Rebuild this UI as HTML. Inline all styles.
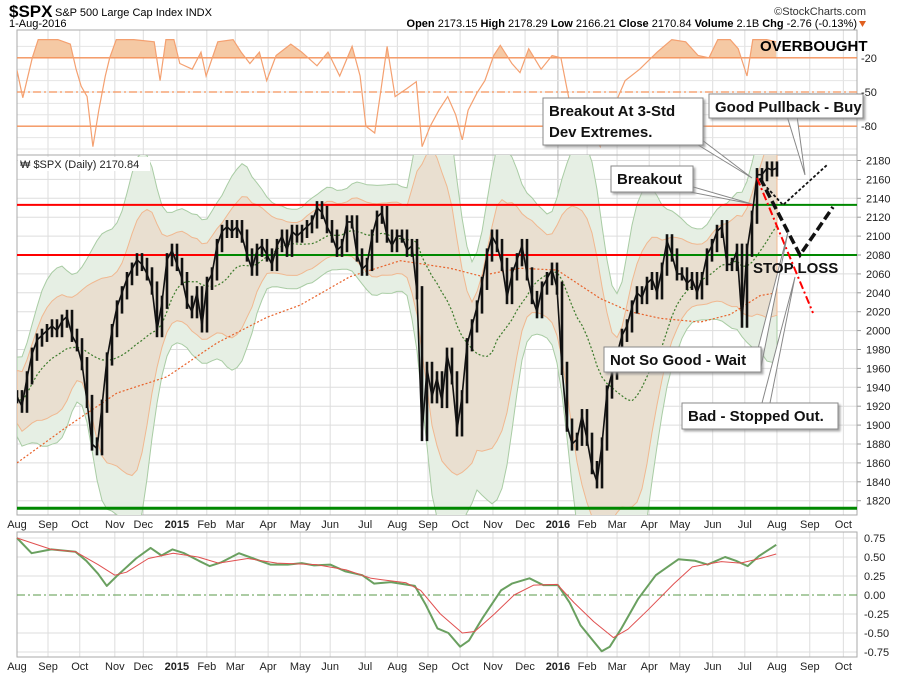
<!DOCTYPE html>
<html><head><meta charset="utf-8"><style>
body{margin:0;background:#fff;width:900px;height:673px;overflow:hidden;font-family:"Liberation Sans",sans-serif}
svg text{font-family:"Liberation Sans",sans-serif}
</style></head><body>
<svg id="c" width="900" height="673" xmlns="http://www.w3.org/2000/svg">
<defs>
<clipPath id="cpMain"><rect x="17" y="155" width="840" height="360"/></clipPath>
<clipPath id="cpTop"><rect x="17" y="30" width="840" height="125"/></clipPath>
<clipPath id="cpOB"><rect x="17" y="30" width="840" height="27.8"/></clipPath>
<filter id="sh" x="-10%" y="-10%" width="130%" height="140%"><feDropShadow dx="2" dy="2" stdDeviation="1" flood-color="#888" flood-opacity="0.7"/></filter>
</defs>
<g id="header">
<text x="9" y="17" font-size="17" font-weight="bold">$SPX</text>
<text x="55" y="16" font-size="11">S&amp;P 500 Large Cap Index INDX</text>
<text x="9" y="27" font-size="11">1-Aug-2016</text>
<text x="866" y="15" font-size="11" text-anchor="end" fill="#333">©StockCharts.com</text>
<text x="857" y="27" font-size="11" text-anchor="end"><tspan font-weight="bold">Open</tspan> 2173.15 <tspan font-weight="bold">High</tspan> 2178.29 <tspan font-weight="bold">Low</tspan> 2166.21 <tspan font-weight="bold">Close</tspan> 2170.84 <tspan font-weight="bold">Volume</tspan> 2.1B <tspan font-weight="bold">Chg</tspan> -2.76 (-0.13%)</text>
<path d="M859,21 L866,21 L862.5,27 Z" fill="#e06020"/>
</g>
<g id="grid"></g>
<g id="toppanel"></g>
<g id="mainpanel"></g>
<g id="bottompanel"></g>
<g id="annot"></g>
</svg>
<script>
// ---- data ----
const monthLabels=["Aug","Sep","Oct","Nov","Dec","2015","Feb","Mar","Apr","May","Jun","Jul","Aug","Sep","Oct","Nov","Dec","2016","Feb","Mar","Apr","May","Jun","Jul","Aug","Sep","Oct"];
const monthWeeks=[0,4.25,8.6,13.4,17.3,21.9,26.0,29.9,34.4,38.8,42.9,47.7,52.1,56.3,60.7,65.2,69.6,74.1,78.1,82.2,86.6,90.8,95.3,99.7,104.1,108.6,113.2];
const priceTicks=[2180,2160,2140,2120,2100,2080,2060,2040,2020,2000,1980,1960,1940,1920,1900,1880,1860,1840,1820];
const closePrices=[1930,1920,1950,1975,1990,1995,2000,2005,2000,2010,2015,1995,1985,1965,1925,1880,1875,1920,1970,2000,2025,2040,2055,2065,2075,2070,2060,2045,2000,2030,2075,2085,2070,2055,2030,2020,2040,2005,2050,2060,2090,2105,2110,2105,2110,2100,2080,2065,2085,2090,2080,2070,2090,2100,2085,2105,2100,2105,2110,2115,2130,2125,2110,2100,2085,2090,2115,2115,2080,2065,2070,2100,2120,2125,2100,2090,2100,2100,2085,2090,2040,1890,1960,1930,1950,1925,1975,1950,1895,1930,1985,2005,2025,2050,2080,2100,2090,2070,2035,2060,2075,2090,2060,2035,2020,2045,2055,2065,2045,1960,1900,1880,1885,1910,1885,1855,1840,1880,1935,1955,1975,1995,2005,2025,2040,2035,2050,2055,2040,2065,2095,2080,2060,2060,2050,2055,2040,2055,2080,2090,2105,2110,2070,2070,2085,2010,2085,2120,2165,2165,2172,2170,2172];
const ma200Weeks=[0,6.8,13.7,20.5,27.4,34.2,38.8,45.6,52.5,59.3,63.4,68.9,74,79.9,84,88.1,93.6,97.7,101.8,104];
const ma200=[1860,1898,1934,1951,1987,2014,2027,2057,2074,2066,2058,2066,2064,2034,2020,2013,2009,2017,2037,2040];
const wrTicks=[-20,-50,-80];
const wrWeeks=[0,0.8,2.1,2.9,4.1,5.6,7.3,8.1,8.8,9.6,10.4,11.2,12.1,12.7,13.6,16,18.8,19.6,20.4,21.5,22.3,24,25.2,25.9,27.5,29.6,30.7,31.9,33.2,34.2,35.5,37.5,39,41.1,42.6,44.2,45.9,47,47.8,49,49.9,50.7,51.8,53.4,54.7,55.5,56.6,57.8,59,60.1,61,61.8,63,64.1,65.3,66.2,67.8,68.9,70.1,71.8,73.3,74.5,75.3,76.2,77.3,78.5,79.9,81,82.1,83.3,85.3,87.7,89.7,91.6,93.3,94.8,96,97.7,98.8,100,100.8,102.7,104];
const wrValues=[-31,-55,-20,-4,-4,-4,-8,-30,-45,-54,-98,-66,-36,-20,-4,-4,-6,-40,-4,-4,-25,-30,-15,-36,-6,-4,-15,-25,-15,-40,-18,-8,-15,-27,-15,-36,-10,-36,-80,-86,-46,-10,-54,-47,-41,-98,-80,-66,-54,-70,-92,-66,-51,-40,-18,-9,-25,-33,-12,-30,-18,-20,-46,-75,-95,-85,-98,-70,-58,-40,-30,-15,-4,-6,-18,-20,-4,-4,-12,-36,-4,-4,-6];
const corrTicks=[0.75,0.5,0.25,0,-0.25,-0.5,-0.75];
const corrTickLabels=["0.75","0.50","0.25","0.00","-0.25","-0.50","-0.75"];
const corrWeeks=[0,2,4.7,8,9.5,11.1,12.3,13.8,16.3,18.3,19.8,21.3,22.9,24.9,26.4,28,30.4,32.4,34.7,37.1,39,40.7,42.9,45,47.3,48.9,51.2,54.5,56,57.6,59.1,60.7,61.9,63.8,66.3,67.8,70.2,72.1,74.1,75.7,77.2,78.9,80.1,81.2,82.8,85.1,87.5,90.6,92.9,94.6,97,98.5,100.1,101.6,104];
const corrValues=[0.75,0.55,0.60,0.57,0.45,0.28,0.12,0.26,0.48,0.62,0.52,0.60,0.55,0.45,0.38,0.43,0.55,0.48,0.40,0.40,0.42,0.39,0.40,0.31,0.26,0.15,0.17,0.12,-0.13,-0.44,-0.50,-0.68,-0.60,-0.30,0.06,0.15,0.22,0.13,0.13,-0.10,-0.40,-0.60,-0.74,-0.68,-0.44,-0.05,0.26,0.47,0.45,0.40,0.50,0.45,0.38,0.51,0.66];
const sigWeeks=[0,4.7,8,11.1,13.4,15,18,21.4,24.8,27.6,31.6,35.6,41,45.1,48.5,53.3,55.3,58,61,62.7,65.4,68.1,70.8,74,76.3,79,81.7,83.7,86.4,90,92.5,96.5,99.1,101.8,104];
const sigValues=[0.75,0.60,0.57,0.40,0.26,0.30,0.48,0.55,0.50,0.42,0.48,0.42,0.40,0.33,0.22,0.16,0.06,-0.25,-0.50,-0.48,-0.25,0.0,0.13,0.14,-0.10,-0.35,-0.56,-0.45,-0.20,0.15,0.37,0.44,0.42,0.48,0.54];
const levels=[2133,2080,1812];

// ---- scales ----
const X0=17,X1=857;
const xW=w=>17+w*7.3;
const yP=v=>160.5+(2180-v)*0.945;
const yW=v=>35+(-v)*1.14;
const yC=v=>595-v*76;
const step=5/7.3;
const NS='http://www.w3.org/2000/svg';
function el(tag,attrs,parent){const e=document.createElementNS(NS,tag);for(const k in attrs)e.setAttribute(k,attrs[k]);parent.appendChild(e);return e;}
const G=id=>document.getElementById(id);
const pts=(ws,vs,fy)=>ws.map((w,i)=>xW(w).toFixed(1)+','+fy(vs[i]).toFixed(1)).join(' ');

// ---- grid & frames ----
const gridG=G('grid');
[[30,155],[155,515],[532,657]].forEach(([t,b])=>{
  monthWeeks.forEach((w,i)=>{const x=xW(w);if(x<X1){const l=el('line',{x1:x,x2:x,y1:t,y2:b,stroke:(monthLabels[i]==='2016')?'#bbb':'#ddd','stroke-width':1},gridG);
  
  }});
});
priceTicks.forEach(v=>{const y=yP(v);const l=el('line',{x1:X0,x2:X1,y1:y,y2:y,stroke:'#ddd'},gridG);


const t=el('text',{x:X1+9,y:y+4,'font-size':11,fill:'#222'},gridG);t.textContent=v;


el('line',{x1:X1,x2:X1+4,y1:y,y2:y,stroke:'#999'},gridG);});
for(let v=-10;v>=-100;v-=10){const y=yW(v);el('line',{x1:X0,x2:X1,y1:y,y2:y,stroke:'#e4e4e4'},gridG);}
corrTicks.forEach((v,i)=>{const y=yC(v);const l=el('line',{x1:X0,x2:X1,y1:y,y2:y,stroke:v===0?'none':'#ddd'},gridG);


const t=el('text',{x:X1+7,y:y+4,'font-size':11,fill:'#222'},gridG);t.textContent=corrTickLabels[i];

});
[[30,155],[155,515],[532,657]].forEach(([t,b])=>{const r=el('rect',{x:X0,y:t,width:X1-X0,height:b-t,fill:'none',stroke:'#aaa'},gridG);

});
[524,666].forEach(yy=>{monthWeeks.forEach((w,i)=>{const x=xW(w);if(x<X1+10){const t=el('text',{x:x,y:yy+4,'font-size':11,'text-anchor':'middle','font-weight':/^20/.test(monthLabels[i])?'bold':'normal',fill:'#222'},gridG);t.textContent=monthLabels[i];

}});});

// ---- top panel (%R) ----
const topG=G('toppanel');
const wrLine=pts(wrWeeks,wrValues,yW);
const fillPts=xW(wrWeeks[0])+','+yW(-20)+' '+wrLine+' '+xW(wrWeeks[wrWeeks.length-1])+','+yW(-20);
const ob=el('polygon',{points:fillPts,fill:'#f5c9a4','clip-path':'url(#cpOB)'},topG);


wrTicks.forEach(v=>{const y=yW(v);const l=el('line',{x1:X0,x2:X1,y1:y,y2:y,stroke:'#f4925a','stroke-width':1.3,'stroke-dasharray':v===-50?'8,3,2,3':'none'},topG);


const t=el('text',{x:X1+4,y:y+4,'font-size':11,fill:'#222'},topG);t.textContent=v;

});
const wl=el('polyline',{points:wrLine,fill:'none',stroke:'#f4a070','stroke-width':1.2,'clip-path':'url(#cpTop)'},topG);


const obt=el('text',{x:760,y:51,'font-size':15,'font-weight':'bold'},topG);obt.textContent='OVERBOUGHT';



// ---- main panel ----
const mainG=G('mainpanel');
const gm=el('g',{'clip-path':'url(#cpMain)'},mainG);
const W=11,MW=15;
const mid=[],sdRaw=[],ma50=[];
closePrices.forEach((v,i)=>{const a=closePrices.slice(Math.max(0,i-W+1),i+1);const m=a.reduce((s,x)=>s+x,0)/a.length;
const s=Math.sqrt(a.reduce((q,x)=>q+(x-m)*(x-m),0)/a.length);mid.push(m);sdRaw.push(Math.max(s,14));
const b=closePrices.slice(Math.max(0,i-MW+1),i+1);ma50.push(b.reduce((q,x)=>q+x,0)/b.length);});
const sd=sdRaw.map((_,i)=>{const a=sdRaw.slice(Math.max(0,i-2),Math.min(sdRaw.length,i+3));return a.reduce((s,x)=>s+x,0)/a.length;});
const band=k=>{const up=closePrices.map((_,i)=>xW(i*step).toFixed(1)+','+yP(mid[i]+k*sd[i]).toFixed(1));
const lo=closePrices.map((_,i)=>xW(i*step).toFixed(1)+','+yP(mid[i]-k*sd[i]).toFixed(1)).reverse();return up.concat(lo).join(' ');};
const b3=el('polygon',{points:band(3),fill:'#e6efe4',stroke:'#a9cca4','stroke-width':1},gm);


const b2=el('polygon',{points:band(2),fill:'#e9dfd0',stroke:'#f0b890','stroke-width':1},gm);


const m50=el('polyline',{points:closePrices.map((_,i)=>xW(i*step)+','+yP(ma50[i])).join(' '),fill:'none',stroke:'#3a7a2a','stroke-width':1.2,'stroke-dasharray':'2,2'},gm);


const m200=el('polyline',{points:pts(ma200Weeks,ma200,yP),fill:'none',stroke:'#e8622a','stroke-width':1.2,'stroke-dasharray':'2,2'},gm);


function hl(v,x1,x2,c,w,n){const l=el('line',{x1:x1,x2:x2,y1:yP(v),y2:yP(v),stroke:c,'stroke-width':w},gm);

}
hl(levels[0],X0,753,'#f00',2,'resistance-line-upper');hl(levels[0],753,X1,'#080',2,'support-line-upper');
hl(levels[1],X0,217,'#f00',2,'resistance-line-lower');hl(levels[1],217,485,'#080',2,'support-line-lower');
hl(levels[1],485,660,'#f00',2,'resistance-line-lower');hl(levels[1],660,X1,'#080',2,'support-line-lower');
hl(levels[2],X0,X1,'#080',3,'support-line-bottom');
// daily-range bars around each close
closePrices.forEach((v,i)=>{const prev=i>0?closePrices[i-1]:v;const hi=Math.max(v,prev)+7,lo=Math.min(v,prev)-7;
const r=el('line',{x1:xW(i*step),x2:xW(i*step),y1:yP(hi),y2:yP(lo),stroke:'#111','stroke-width':2.6},gm);

});
const pl=el('polyline',{points:closePrices.map((v,i)=>xW(i*step)+','+yP(v)).join(' '),fill:'none',stroke:'#111','stroke-width':1.6,'stroke-linejoin':'round'},gm);


const lg=el('rect',{x:18,y:157,width:132,height:14,fill:'#fff'},mainG);


const lt=el('text',{x:20,y:168,'font-size':11,fill:'#222'},mainG);lt.textContent='₩ $SPX (Daily) 2170.84';



// ---- bottom panel ----
const botG=G('bottompanel');
const z=el('line',{x1:X0,x2:X1,y1:yC(0),y2:yC(0),stroke:'#5a9a4a','stroke-width':1,'stroke-dasharray':'8,3,2,3'},botG);


const cl=el('polyline',{points:pts(corrWeeks,corrValues,yC),fill:'none',stroke:'#6aa060','stroke-width':2,'stroke-linejoin':'round'},botG);


const sl=el('polyline',{points:pts(sigWeeks,sigValues,yC),fill:'none',stroke:'#e05050','stroke-width':1,'stroke-linejoin':'round'},botG);



// ---- annotations ----
const an=G('annot');
function line(p,c,w,d,n){const l=el('polyline',{points:p,fill:'none',stroke:c,'stroke-width':w,'stroke-dasharray':d},an);

}
line('757,178 813,313','#f00',2,'8,3,2,3','projection-red-dashdot');
line('760,178 800,255 833,207','#111',3.5,'9,4','projection-black-dashed');
line('760,180 783,205 827,165','#111',1.8,'3,2','projection-black-dotted');
function ptr(p,n){const g=el('polygon',{points:p,fill:'#fff',stroke:'#888','stroke-width':1},an);

}
ptr('690,140 702,140 752,178','callout-pointer');
ptr('690,186 690,192 752,204','callout-pointer');
ptr('787,116 797,116 805,175','callout-pointer');
ptr('752,372 760,372 788,232','callout-pointer');
ptr('762,403 770,403 795,277','callout-pointer');
function box(x,y,w,h,lines,n){const g=el('g',{},an);


el('rect',{x:x,y:y,width:w,height:h,fill:'#fff',stroke:'#888',filter:'url(#sh)'},g);
lines.forEach((s,i)=>{const t=el('text',{x:x+6,y:y+18+i*21,'font-size':15,'font-weight':'bold',fill:'#111'},g);t.textContent=s;});}
box(543,98,160,47,['Breakout At 3-Std','Dev Extremes.'],'annotation-breakout-3std');
box(709,94,154,24,['Good Pullback - Buy'],'annotation-good-pullback');
box(611,166,82,26,['Breakout'],'annotation-breakout');
box(604,347,157,25,['Not So Good - Wait'],'annotation-not-so-good');
box(682,403,156,26,['Bad - Stopped Out.'],'annotation-stopped-out');
const st=el('text',{x:753,y:273,'font-size':15,'font-weight':'bold',fill:'#111'},an);st.textContent='STOP LOSS';


</script>
</body></html>
